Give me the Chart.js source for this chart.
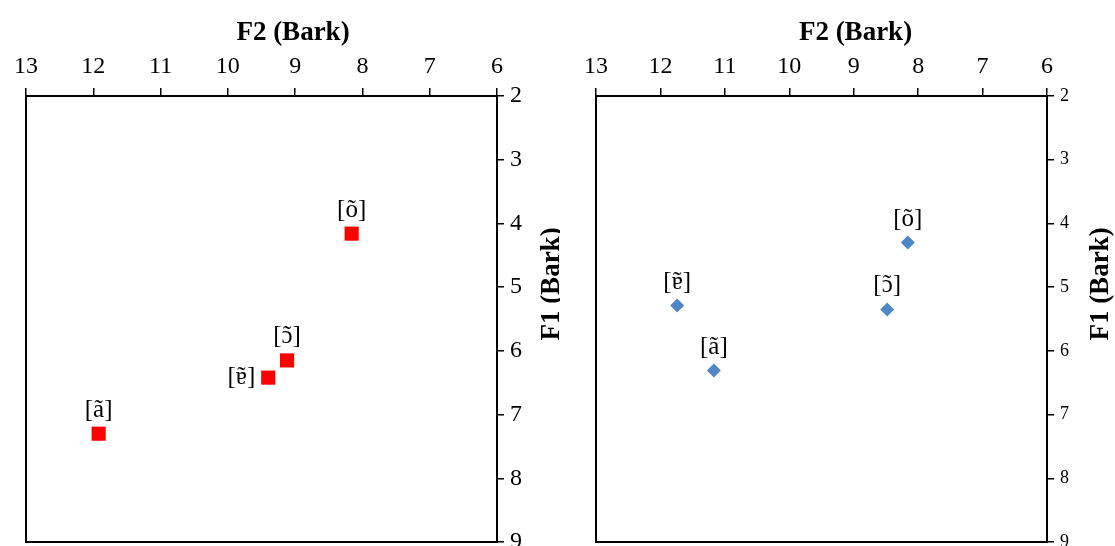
<!DOCTYPE html>
<html>
<head>
<meta charset="utf-8">
<script src="https://cdn.jsdelivr.net/npm/chart.js@4.4.0/dist/chart.umd.min.js"></script>
<style>
  html, body { margin: 0; padding: 0; background: #fff; }
  #wrap { position: relative; width: 1115px; height: 546px; overflow: hidden; }
  canvas { position: absolute; top: 0; }
</style>
</head>
<body>
<div id="wrap">
  <!-- canvases run a little past the bottom edge so the frame sits where the cropped original has it -->
  <canvas id="leftChart" width="560" height="552" style="left:0;"></canvas>
  <canvas id="rightChart" width="555" height="549" style="left:560px;"></canvas>
</div>
<script>
// vowel labels
const vowels = ['[õ]', '[ɔ̃]', '[ɐ̃]', '[ã]'];

// left panel (red squares)
const leftF2 = [8.16, 9.12, 9.40, 11.92];
const leftF1 = [4.16, 6.15, 6.42, 7.30];
const leftSide = ['top', 'top', 'left', 'top'];

// right panel (blue diamonds)
const rightF2 = [8.16, 8.48, 11.74, 11.17];
const rightF1 = [4.30, 5.35, 5.29, 6.31];
const rightSide = ['top', 'top', 'top', 'top'];

// axis ticks
const f2Ticks = [13, 12, 11, 10, 9, 8, 7, 6];
const f1Ticks = [2, 3, 4, 5, 6, 7, 8, 9];

const serif = "'Liberation Serif', 'DejaVu Serif', serif";

function points(xs, ys) {
  return xs.map(function (x, i) { return { x: x, y: ys[i] }; });
}

// the font has no mark positioning for ɔ/ɐ, so the tilde is put on by hand
function drawVowel(ctx, label, x, y, align) {
  const inner = label.slice(1, -1).normalize('NFD').replace('\u0303', '');
  const text = '[' + inner + ']';
  const w = ctx.measureText(text).width;
  const left = align === 'right' ? x - w : x - w / 2;
  ctx.textAlign = 'left';
  ctx.fillText(text, left, y);
  const bw = ctx.measureText('[').width;
  const cw = ctx.measureText(inner).width;
  ctx.textAlign = 'center';
  ctx.fillText('\u02DC', left + bw + cw / 2, y);
}

// box around the plot + titles + vowel labels
const extras = {
  id: 'extras',
  afterDraw: function (chart, args, opts) {
    const ctx = chart.ctx;
    const a = chart.chartArea;
    ctx.save();
    ctx.strokeStyle = '#000';
    ctx.lineWidth = 2;
    ctx.strokeRect(a.left, a.top, a.right - a.left, a.bottom - a.top);

    ctx.fillStyle = '#000';
    ctx.font = '25px ' + serif;
    ctx.textBaseline = 'alphabetic';
    const meta = chart.getDatasetMeta(0);
    meta.data.forEach(function (pt, i) {
      if (opts.side[i] === 'left') {
        drawVowel(ctx, vowels[i], pt.x - 13, pt.y + 6, 'right');
      } else {
        drawVowel(ctx, vowels[i], pt.x, pt.y - 17, 'center');
      }
    });

    ctx.font = 'bold 27px ' + serif;
    ctx.textAlign = 'center';
    ctx.textBaseline = 'middle';
    ctx.fillText('F2 (Bark)', (a.left + chart.width) / 2, 33);
    ctx.translate(opts.titleX, 284);
    ctx.rotate(-Math.PI / 2);
    ctx.fillText('F1 (Bark)', 0, 0);
    ctx.restore();
  }
};

function makeChart(id, xs, ys, style, side, yWidth, padLeft, yFont, titleX) {
  return new Chart(document.getElementById(id).getContext('2d'), {
    type: 'scatter',
    data: {
      datasets: [{
        data: points(xs, ys),
        pointStyle: style.shape,
        pointRadius: style.radius,
        pointHoverRadius: style.radius,
        backgroundColor: style.color,
        borderColor: style.color,
        borderWidth: 0
      }]
    },
    options: {
      responsive: false,
      animation: false,
      layout: { padding: { left: padLeft, right: 0, top: 0, bottom: 0 } },
      plugins: {
        legend: { display: false },
        tooltip: { enabled: false },
        extras: { side: side, titleX: titleX }
      },
      scales: {
        x: {
          type: 'linear',
          position: 'top',
          reverse: true,
          min: Math.min.apply(null, f2Ticks),
          max: Math.max.apply(null, f2Ticks),
          ticks: { stepSize: 1, color: '#000', padding: 7, font: { family: serif, size: 24 } },
          grid: { drawOnChartArea: false, drawTicks: true, tickLength: 8, color: '#000', lineWidth: 1.5 },
          border: { display: true, color: '#000', width: 2 },
          afterFit: function (scale) {
            scale.height = 96;
            scale.paddingLeft = 0;
            scale.paddingRight = 0;
          }
        },
        y: {
          type: 'linear',
          position: 'right',
          reverse: true,
          min: Math.min.apply(null, f1Ticks),
          max: Math.max.apply(null, f1Ticks),
          ticks: { stepSize: 1, color: '#000', padding: 6, font: { family: serif, size: yFont } },
          grid: { drawOnChartArea: false, drawTicks: true, tickLength: 7, color: '#000', lineWidth: 1.5 },
          border: { display: true, color: '#000', width: 2 },
          afterFit: function (scale) {
            scale.width = yWidth;
            scale.paddingTop = 0;
            scale.paddingBottom = 0;
          }
        }
      }
    },
    plugins: [extras]
  });
}

makeChart('leftChart', leftF2, leftF1, { shape: 'rect', radius: 10, color: '#ff0000' },
  leftSide, 63, 26, 24, 552);
makeChart('rightChart', rightF2, rightF1, { shape: 'rectRot', radius: 7, color: '#4f86c6' },
  rightSide, 68, 36, 18, 541);
</script>
</body>
</html>
